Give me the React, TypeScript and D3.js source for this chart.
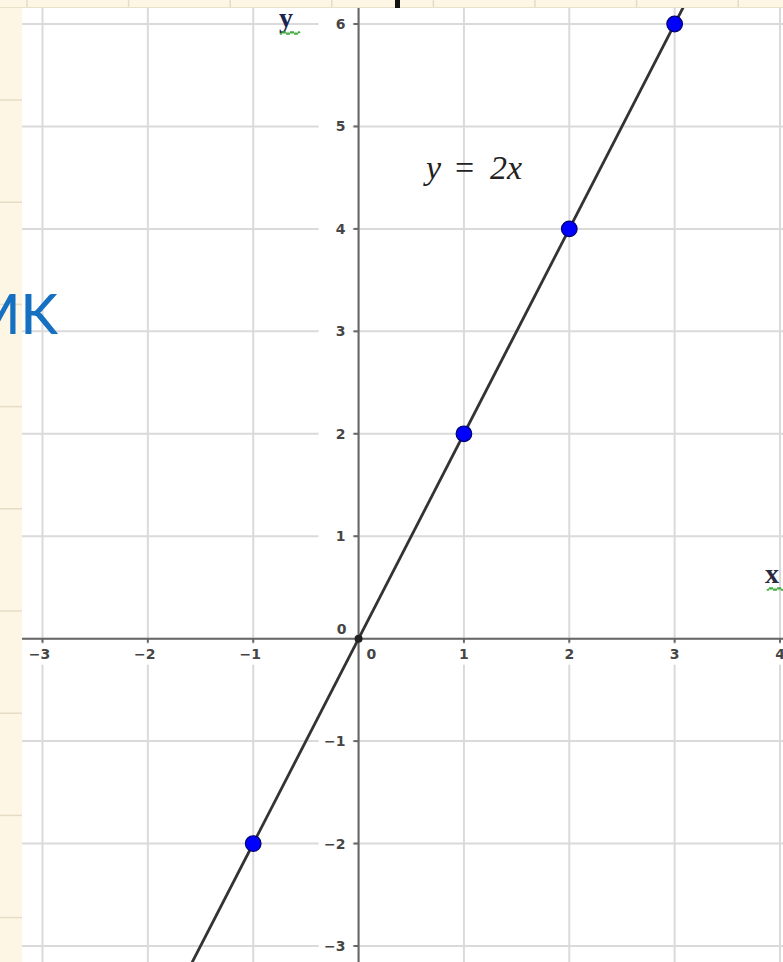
import React from "react";
import * as d3 from "d3";

const W = 783;
const H = 962;

// data
const xTicks = [-3, -2, -1, 1, 2, 3, 4];
const yTicks = [-3, -2, -1, 1, 2, 3, 4, 5, 6];
const xGrid = [-3, -2, -1, 0, 1, 2, 3, 4];
const yGrid = [-3, -2, -1, 0, 1, 2, 3, 4, 5, 6];
const pointX = [-1, 1, 2, 3];
const pointY = [-2, 2, 4, 6];
const lineX = [-1.7, 3.2];
const lineY = [-3.4, 6.4];
const equationLabel = ["y", "=", "2x"];

const fmt = (v: number) => (v < 0 ? "\u2212" + Math.abs(v) : String(v));

export default function App() {
  const plot = { left: 22, top: 8, right: W, bottom: H };
  const x = d3.scaleLinear().domain([-3, 4]).range([42.5, 780]);
  const y = d3.scaleLinear().domain([-3, 6]).range([946, 24]);
  const x0 = x(0);
  const y0 = y(0);

  const line = d3
    .line<number>()
    .x((_, i) => x(lineX[i]))
    .y((_, i) => y(lineY[i]));

  const creamRows = d3.range(100, H, 102.2);
  const creamCols = d3.range(27, W, 101.6);

  const squiggle = (sx: number, sy: number, len: number) => {
    let p = `M${sx},${sy}`;
    for (let i = 0; i < len; i += 4) {
      p += ` q1,${i % 8 === 0 ? 2.5 : -2.5} 2,0 q1,${i % 8 === 0 ? -2.5 : 2.5} 2,0`;
    }
    return p;
  };

  return (
    <svg
      width={W}
      height={H}
      style={{ position: "absolute", left: 0, top: 0, display: "block" }}
    >
      <defs>
        <clipPath id="plotClip">
          <rect x={plot.left} y={plot.top} width={plot.right - plot.left} height={plot.bottom - plot.top} />
        </clipPath>
      </defs>
      {/* cream slide background */}
      <rect x={0} y={0} width={W} height={H} fill="#fdf6e4" />
      {creamRows.map((r, i) => (
        <line key={"cr" + i} x1={0} x2={plot.left} y1={r} y2={r} stroke="#e6dcc6" strokeWidth={1.5} />
      ))}
      {creamCols.map((c, i) => (
        <line key={"cc" + i} x1={c} x2={c} y1={0} y2={plot.top} stroke="#e6dcc6" strokeWidth={1.5} />
      ))}
      <line x1={0} x2={W} y1={plot.top - 0.5} y2={plot.top - 0.5} stroke="#eadfc8" strokeWidth={1} />
      <rect x={395} y={0} width={5} height={10} fill="#111" />

      {/* plot area */}
      <g clipPath="url(#plotClip)">
        <rect x={plot.left} y={plot.top} width={plot.right - plot.left} height={plot.bottom - plot.top} fill="#ffffff" />
        {xGrid.map((v) => (
          <line key={"gx" + v} x1={x(v)} x2={x(v)} y1={plot.top} y2={plot.bottom} stroke="#dadada" strokeWidth={2} />
        ))}
        {yGrid.map((v) => (
          <line key={"gy" + v} x1={plot.left} x2={plot.right} y1={y(v)} y2={y(v)} stroke="#dadada" strokeWidth={2} />
        ))}

        {/* label halos */}
        {xTicks.map((v) => (
          <rect key={"hx" + v} x={x(v) - (v < 0 ? 15 : 8)} y={y0 + 5} width={v < 0 ? 28 : 17} height={21} fill="#fff" />
        ))}
        {yTicks.map((v) => (
          <rect key={"hy" + v} x={x0 - 40} y={y(v) - 10} width={34} height={20} fill="#fff" />
        ))}

        {/* axes */}
        <line x1={plot.left} x2={plot.right} y1={y0} y2={y0} stroke="#676767" strokeWidth={2} />
        <line x1={x0} x2={x0} y1={plot.top} y2={plot.bottom} stroke="#676767" strokeWidth={2} />
        {xTicks.map((v) => (
          <line key={"tx" + v} x1={x(v)} x2={x(v)} y1={y0} y2={y0 + 4} stroke="#676767" strokeWidth={2} />
        ))}
        {yTicks.map((v) => (
          <line key={"ty" + v} x1={x0 - 5} x2={x0} y1={y(v)} y2={y(v)} stroke="#676767" strokeWidth={2} />
        ))}

        {/* tick labels */}
        <g fontFamily="DejaVu Sans, sans-serif" fontSize={14} fontWeight={600} fill="#454545">
          {xTicks.map((v) => (
            <text key={"lx" + v} x={x(v) - (v < 0 ? 3 : 0)} y={y0 + 20} textAnchor="middle">
              {fmt(v)}
            </text>
          ))}
          {yTicks.map((v) => (
            <text key={"ly" + v} x={x0 - 13} y={y(v) + 5} textAnchor="end">
              {fmt(v)}
            </text>
          ))}
          <text x={x0 - 12} y={y0 - 5} textAnchor="end">0</text>
          <text x={x0 + 8} y={y0 + 20} textAnchor="start">0</text>
        </g>

        {/* function line */}
        <path d={line(lineX) || ""} fill="none" stroke="#333333" strokeWidth={2.8} />

        {/* origin point */}
        <circle cx={x0} cy={y0} r={4} fill="#222" />

        {/* points */}
        {pointX.map((px, i) => (
          <circle key={"p" + i} cx={x(px)} cy={y(pointY[i])} r={7.8} fill="#0000ff" stroke="#00006e" strokeWidth={1.2} />
        ))}

        {/* equation label */}
        <text fontFamily="Liberation Serif, serif" fontStyle="italic" fontSize={34} fill="#222" y={179}>
          <tspan x={426}>{equationLabel[0]}</tspan>
          <tspan x={455} fontStyle="normal">{equationLabel[1]}</tspan>
          <tspan x={490}>{equationLabel[2]}</tspan>
        </text>

        {/* axis names */}
        <text x={279} y={27} fontFamily="Liberation Serif, serif" fontWeight="bold" fontSize={28} fill="#1c2350">y</text>
        <path d={squiggle(280, 33, 20)} fill="none" stroke="#3aa83a" strokeWidth={1.3} />
        <text x={765} y={583} fontFamily="Liberation Serif, serif" fontWeight="bold" fontSize={28} fill="#2a2a40">x</text>
        <path d={squiggle(767, 589, 16)} fill="none" stroke="#3aa83a" strokeWidth={1.3} />
      </g>

      {/* slide text partially visible */}
      <text
        x={58}
        y={334}
        textAnchor="end"
        fontFamily="Lato, sans-serif"
        fontWeight={500}
        fontSize={56}
        fill="#1570c2"
      >
        MK
      </text>
    </svg>
  );
}
